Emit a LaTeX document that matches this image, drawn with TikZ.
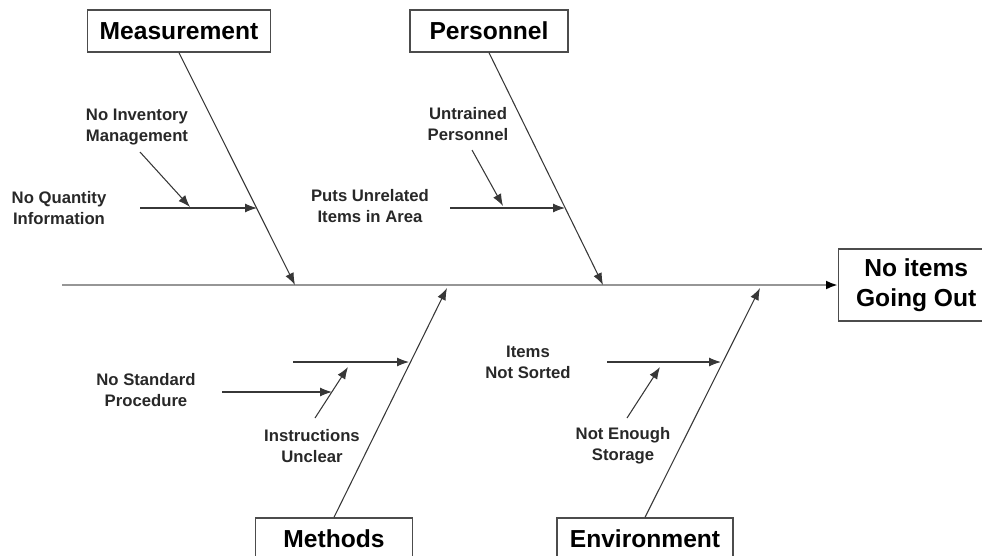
\documentclass[tikz,border=0pt]{standalone}
\usepackage{fontspec}
\setmainfont{Liberation Sans}
\usepackage{tikz}
\usetikzlibrary{arrows.meta}
\definecolor{boneline}{RGB}{55,55,55}
\definecolor{spinegray}{RGB}{150,150,150}
\definecolor{labeltext}{RGB}{40,40,40}

\begin{document}
\begin{tikzpicture}[
  x=0.02cm, y=-0.02cm,
  catbox/.style={
    draw=black!70,
    line width=0.8pt,
    fill=white,
    align=center,
    minimum height=0.84cm,
    inner sep=0pt,
    font=\fontsize{14}{17}\selectfont\bfseries
  },
  cause/.style={
    align=center,
    inner sep=0pt,
    text=labeltext,
    font=\fontsize{9.5}{12}\selectfont\bfseries
  },
  bone/.style={-{Latex[length=2.4mm,width=1.8mm]}, line width=0.6pt, draw=boneline},
  spine/.style={-{Latex[length=2.4mm,width=1.8mm,black]}, line width=1.6pt, draw=spinegray}
]
\useasboundingbox (0,0) rectangle (982,555);
\clip (0,0) rectangle (982,555);

% effect and categories
\node[catbox, minimum width=3.1cm, minimum height=1.44cm, anchor=west] (effect) at (838,285)
  {No items\\Going Out};
\node[catbox, minimum width=3.66cm] (meas) at (179,31) {Measurement};
\node[catbox, minimum width=3.16cm] (pers) at (489,31) {Personnel};
\node[catbox, minimum width=3.14cm] (meth) at (334,539) {Methods};
\node[catbox, minimum width=3.52cm] (envr) at (645,539) {Environment};

% spine
\coordinate (tail) at (62,285);
\draw[spine] (tail) -- (effect.west);

% main bones
\coordinate (measjoin) at (295,285);
\coordinate (persjoin) at (603,285);
\coordinate (methjoin) at (447,288);
\coordinate (envrjoin) at (760,288);
\draw[bone] (meas.south) -- (measjoin);
\draw[bone] (pers.south) -- (persjoin);
\draw[bone] (meth.north) -- (methjoin);
\draw[bone] (envr.north) -- (envrjoin);

% measurement causes
\node[cause] (noqty) at (59,208) {No Quantity\\Information};
\node[cause] (noinv) at (137,127) {No Inventory\\Management};
\coordinate (qtystart) at (140,208);
\coordinate (qtyend) at (257,208);
\coordinate (invstart) at (140,152);
\coordinate (invend) at (190,207);
\draw[bone] (qtystart) -- (qtyend);
\draw[bone] (invstart) -- (invend);

% personnel causes
\node[cause] (puts) at (370,206) {Puts Unrelated\\Items in Area};
\node[cause] (untr) at (468,124) {Untrained\\Personnel};
\coordinate (putsstart) at (450,208);
\coordinate (putsend) at (565,208);
\coordinate (untrstart) at (472,150);
\coordinate (untrend) at (503,206);
\draw[bone] (putsstart) -- (putsend);
\draw[bone] (untrstart) -- (untrend);

% methods causes
\node[cause] (nostd) at (146,390) {No Standard\\Procedure};
\node[cause] (instr) at (312,446) {Instructions\\Unclear};
\coordinate (methstart) at (293,362);
\coordinate (methend) at (409,362);
\coordinate (instrstart) at (315,418);
\coordinate (instrend) at (348,367);
\coordinate (stdstart) at (222,392);
\coordinate (stdend) at (332,392);
\draw[bone] (methstart) -- (methend);
\draw[bone] (instrstart) -- (instrend);
\draw[bone] (stdstart) -- (stdend);

% environment causes
\node[cause] (sort) at (528,362) {Items\\Not Sorted};
\node[cause] (stor) at (623,446) {Not Enough\\Storage};
\coordinate (sortstart) at (607,362);
\coordinate (sortend) at (721,362);
\coordinate (storstart) at (627,418);
\coordinate (storend) at (660,367);
\draw[bone] (sortstart) -- (sortend);
\draw[bone] (storstart) -- (storend);
\end{tikzpicture}
\end{document}
